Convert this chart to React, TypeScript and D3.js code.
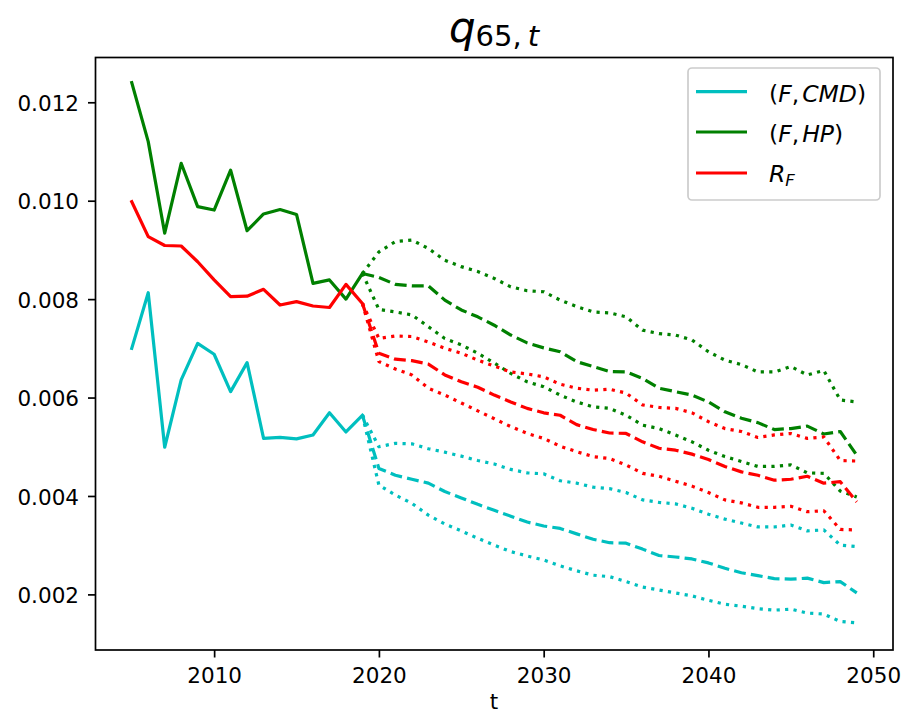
import React, { useEffect, useRef } from 'react';
import * as d3 from 'd3';

// observed period
const histYears = [2005, 2006, 2007, 2008, 2009, 2010, 2011, 2012, 2013, 2014, 2015, 2016, 2017, 2018, 2019];
// projection period
const forecastYears = [2020, 2021, 2022, 2023, 2024, 2025, 2026, 2027, 2028, 2029, 2030, 2031, 2032, 2033, 2034,
	2035, 2036, 2037, 2038, 2039, 2040, 2041, 2042, 2043, 2044, 2045, 2046, 2047, 2048, 2049];

const cmdHist = [0.0070, 0.00813, 0.00499, 0.00636, 0.0071, 0.00688, 0.00612, 0.00671, 0.00517, 0.00519,
	0.00516, 0.00524, 0.00569, 0.0053, 0.00564];
const cmdMean = [0.00456, 0.00442, 0.00434, 0.00426, 0.00409, 0.00396, 0.00383, 0.00371, 0.00359, 0.00347,
	0.00339, 0.00334, 0.00323, 0.00312, 0.00305, 0.00304, 0.00292, 0.00279, 0.00276, 0.00272,
	0.00264, 0.00253, 0.00244, 0.00238, 0.00232, 0.00231, 0.00233, 0.00224, 0.00226, 0.00203];
const cmdUpper = [0.0050, 0.00507, 0.00506, 0.00496, 0.00489, 0.00481, 0.00472, 0.00465, 0.00454, 0.00447,
	0.00445, 0.00431, 0.00426, 0.00418, 0.00415, 0.00407, 0.00392, 0.00387, 0.00384, 0.00375,
	0.00363, 0.00353, 0.00345, 0.00337, 0.00337, 0.00341, 0.00329, 0.00331, 0.0030, 0.00297];
const cmdLower = [0.00422, 0.00402, 0.00385, 0.00361, 0.00343, 0.00329, 0.00314, 0.0030, 0.00287, 0.00278,
	0.0027, 0.00258, 0.00248, 0.00239, 0.00236, 0.00226, 0.00215, 0.00209, 0.00203, 0.00197,
	0.00188, 0.0018, 0.00176, 0.00171, 0.00168, 0.0017, 0.00162, 0.0016, 0.00145, 0.00142];

const hpHist = [0.0124, 0.0112, 0.00934, 0.01076, 0.00988, 0.00981, 0.01062, 0.00939, 0.00973, 0.00982,
	0.00972, 0.00832, 0.00839, 0.0080, 0.00852];
const hpMean = [0.00844, 0.0083, 0.00827, 0.00827, 0.00798, 0.00778, 0.00764, 0.00747, 0.00727, 0.00711,
	0.00701, 0.00693, 0.00673, 0.00663, 0.00653, 0.00652, 0.00639, 0.00619, 0.00612, 0.00605,
	0.00591, 0.00571, 0.00558, 0.00549, 0.00535, 0.00537, 0.00542, 0.00526, 0.00531, 0.00483];
const hpUpper = [0.00896, 0.00917, 0.0092, 0.00903, 0.00879, 0.00866, 0.00856, 0.00842, 0.00825, 0.00817,
	0.00815, 0.00798, 0.00785, 0.00774, 0.00772, 0.00764, 0.00737, 0.0073, 0.00727, 0.00717,
	0.00693, 0.00676, 0.00667, 0.00652, 0.00652, 0.00663, 0.00646, 0.00655, 0.00595, 0.00591];
const hpLower = [0.00779, 0.00774, 0.00768, 0.00744, 0.0072, 0.00707, 0.0069, 0.0067, 0.00649, 0.00632,
	0.00622, 0.00605, 0.00591, 0.00581, 0.00578, 0.00564, 0.00544, 0.00537, 0.00524, 0.0051,
	0.00493, 0.0048, 0.0047, 0.0046, 0.0046, 0.00463, 0.00447, 0.00446, 0.0041, 0.00398];

const rfHist = [0.00998, 0.00927, 0.00909, 0.00908, 0.00876, 0.00839, 0.00805, 0.00806, 0.0082, 0.00788,
	0.00795, 0.00786, 0.00783, 0.0083, 0.00791];
const rfMean = [0.0069, 0.00678, 0.00675, 0.00668, 0.00646, 0.00632, 0.00621, 0.00605, 0.00591, 0.00578,
	0.00569, 0.00564, 0.00545, 0.00535, 0.00528, 0.00527, 0.0051, 0.00497, 0.00493, 0.00485,
	0.00474, 0.0046, 0.00449, 0.00442, 0.00432, 0.00434, 0.0044, 0.00426, 0.00429, 0.00388];
const rfUpper = [0.0072, 0.00725, 0.00724, 0.00713, 0.0070, 0.0069, 0.00676, 0.00664, 0.00652, 0.00648,
	0.00642, 0.00627, 0.00619, 0.00615, 0.00617, 0.00609, 0.00585, 0.0058, 0.00578, 0.00569,
	0.00551, 0.00537, 0.00531, 0.00519, 0.00524, 0.00527, 0.00517, 0.0052, 0.00472, 0.00471];
const rfLower = [0.00673, 0.00658, 0.00646, 0.00619, 0.00605, 0.00589, 0.00573, 0.00557, 0.00541, 0.00527,
	0.00517, 0.00501, 0.0049, 0.0048, 0.00476, 0.00463, 0.00446, 0.0044, 0.0043, 0.0042,
	0.00407, 0.00392, 0.00386, 0.00377, 0.00377, 0.00379, 0.00368, 0.0037, 0.00332, 0.00331];

const xTicks = [2010, 2020, 2030, 2040, 2050];
const yTicks = [0.002, 0.004, 0.006, 0.008, 0.010, 0.012];
const xLimits = [2002.8, 2051.2];
const yLimits = [0.00087, 0.01291];

const W = 902;
const H = 714;
const box = { left: 95.5, right: 893, top: 57.5, bottom: 650 };
const font = 'DejaVu Sans';
const lw = 3.2;

const drawChart = (el) => {
	const svg = d3.select(el);
	svg.selectAll('*').remove();

	const x = d3.scaleLinear().domain(xLimits).range([box.left, box.right]);
	const y = d3.scaleLinear().domain(yLimits).range([box.bottom, box.top]);
	const line = d3.line().x((d) => x(d[0])).y((d) => y(d[1]));

	const series = [
		{ color: '#00bfbf', hist: cmdHist, mean: cmdMean, upper: cmdUpper, lower: cmdLower },
		{ color: '#008000', hist: hpHist, mean: hpMean, upper: hpUpper, lower: hpLower },
		{ color: '#ff0000', hist: rfHist, mean: rfMean, upper: rfUpper, lower: rfLower }
	];

	const plot = svg.append('g');
	series.forEach((s) => {
		const hist = histYears.map((t, i) => [t, s.hist[i]]);
		const last = hist[hist.length - 1];
		plot.append('path').datum(hist)
			.attr('d', line)
			.attr('fill', 'none')
			.attr('stroke', s.color)
			.attr('stroke-width', lw)
			.attr('stroke-linejoin', 'round')
			.attr('stroke-linecap', 'square');
		[[s.mean, '11.9 5.2'], [s.upper, '3.2 5.3'], [s.lower, '3.2 5.3']].forEach(([vals, dash]) => {
			const pts = [last, ...forecastYears.map((t, i) => [t, vals[i]])];
			plot.append('path').datum(pts)
				.attr('d', line)
				.attr('fill', 'none')
				.attr('stroke', s.color)
				.attr('stroke-width', lw)
				.attr('stroke-linejoin', 'round')
				.attr('stroke-dasharray', dash);
		});
	});

	// frame
	svg.append('rect')
		.attr('x', box.left).attr('y', box.top)
		.attr('width', box.right - box.left).attr('height', box.bottom - box.top)
		.attr('fill', 'none').attr('stroke', '#000').attr('stroke-width', 1.7);

	const gx = svg.append('g').attr('transform', `translate(0,${ box.bottom })`)
		.call(d3.axisBottom(x).tickValues(xTicks).tickFormat(d3.format('d'))
			.tickSize(7.5).tickPadding(10.5));
	const gy = svg.append('g').attr('transform', `translate(${ box.left },0)`)
		.call(d3.axisLeft(y).tickValues(yTicks).tickFormat(d3.format('.3f'))
			.tickSize(7.5).tickPadding(9));
	[gx, gy].forEach((g) => {
		g.select('.domain').remove();
		g.attr('font-family', font).attr('font-size', 21.5);
		g.selectAll('line').attr('stroke', '#000').attr('stroke-width', 1.7);
		g.selectAll('text').attr('fill', '#000');
	});
	gy.selectAll('text').attr('dy', '0.38em');
};

const Legend = () => {
	const rows = [
		{ color: '#00bfbf', y: 91.7 },
		{ color: '#008000', y: 132 },
		{ color: '#ff0000', y: 173 }
	];
	return (
		<g fontFamily={ font } fontSize={ 23.5 } fill="#000">
			<rect x={ 688 } y={ 68 } width={ 192 } height={ 132 } rx={ 4 }
				fill="#fff" fillOpacity={ 0.8 } stroke="#cccccc" strokeWidth={ 1.7 }/>
			{ rows.map((r) => (
				<line key={ r.y } x1={ 696 } x2={ 747 } y1={ r.y } y2={ r.y }
					stroke={ r.color } strokeWidth={ lw }/>
			)) }
			<text x={ 769 } y={ 101.5 }>
				<tspan>(</tspan><tspan fontStyle="italic">F</tspan><tspan>,</tspan>
				<tspan fontStyle="italic" dx={ 3 }>CMD</tspan><tspan>)</tspan>
			</text>
			<text x={ 769 } y={ 141.7 }>
				<tspan>(</tspan><tspan fontStyle="italic">F</tspan><tspan>,</tspan>
				<tspan fontStyle="italic" dx={ 3 }>HP</tspan><tspan>)</tspan>
			</text>
			<text x={ 769 } y={ 181.7 }>
				<tspan fontStyle="italic">R</tspan>
				<tspan fontStyle="italic" fontSize={ 16.5 } dy={ 4.5 }>F</tspan>
			</text>
		</g>
	);
};

const App = () => {
	const ref = useRef(null);

	useEffect(() => drawChart(ref.current), []);

	return (
		<svg width={ W } height={ H } style={ { position: 'absolute', left: 0, top: 0, background: '#fff' } }>
			<g ref={ ref }/>
			<text x={ 494 } y={ 41.7 } textAnchor="middle" fontFamily={ font } fill="#000">
				<tspan fontStyle="italic" fontSize={ 42 }>q</tspan>
				<tspan fontSize={ 29 } dy={ 4 }>65,</tspan>
				<tspan fontSize={ 29 } fontStyle="italic" dx={ 6 }>t</tspan>
			</text>
			<text x={ 494 } y={ 709 } textAnchor="middle" fontFamily={ font } fontSize={ 21.5 } fill="#000">t</text>
			<Legend/>
		</svg>
	);
};

export default App;
